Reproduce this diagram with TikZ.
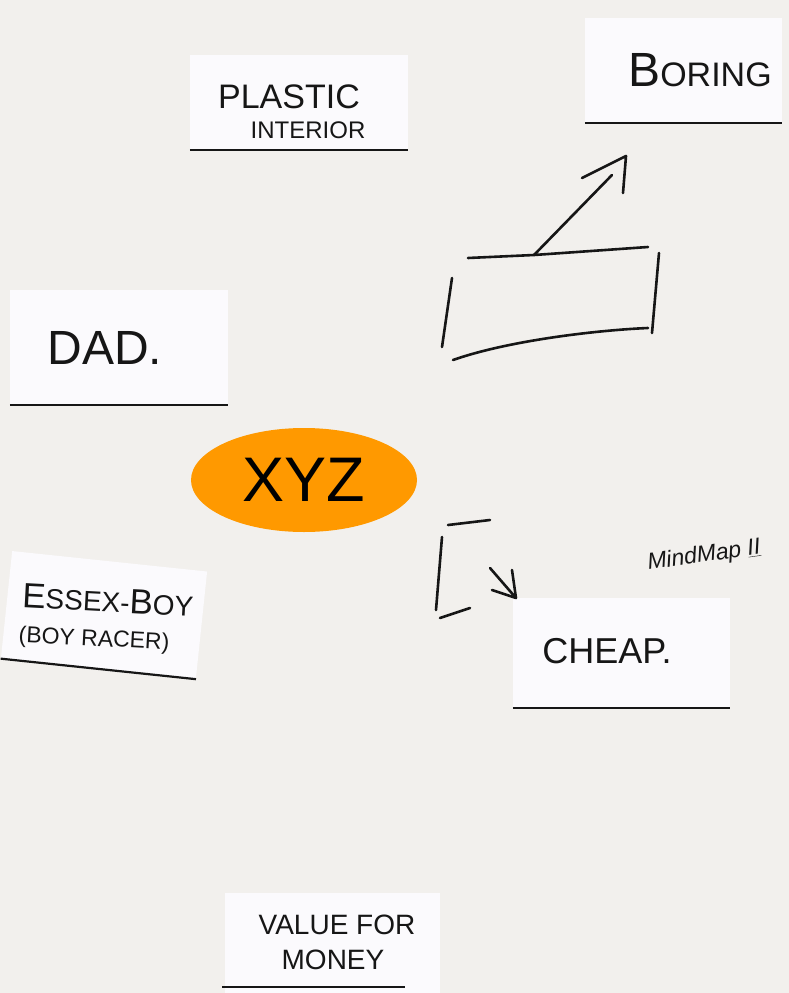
\documentclass[tikz,border=0pt]{standalone}
\usepackage{fontspec}
\setmainfont{Liberation Sans}
\usetikzlibrary{shapes.geometric}
\definecolor{paper}{HTML}{F2F0ED}
\definecolor{card}{HTML}{FBFAFD}
\definecolor{ink}{HTML}{161616}
\definecolor{xyzorange}{HTML}{FF9900}
\tikzset{
  cardbox/.style={fill=card, draw=none, inner sep=0pt},
  cardedge/.style={draw=ink, line width=2.2pt},
  hand/.style={text=ink, inner sep=0pt, align=center},
  pen/.style={draw=ink, line width=2.6pt, line cap=round, line join=round},
  hub/.style={ellipse, fill=xyzorange, draw=none, minimum width=226pt, minimum height=104pt, inner sep=0pt,
              font=\fontsize{63}{63}\selectfont, text=black},
}
\begin{document}
\begin{tikzpicture}[x=1pt,y=-1pt]
\useasboundingbox (0,0) rectangle (789,993);
\fill[paper] (0,0) rectangle (789,993);

% cards
\node[cardbox, minimum width=218pt, minimum height=95pt] (plasticcard) at (299,102.5) {};
\draw[cardedge] (plasticcard.south west) -- (plasticcard.south east);
\node[cardbox, minimum width=197pt, minimum height=105pt] (boringcard) at (683.5,70) {};
\draw[cardedge] (boringcard.south west) -- (boringcard.south east);
\node[cardbox, minimum width=218pt, minimum height=115pt] (dadcard) at (119,347) {};
\draw[cardedge] (dadcard.south west) -- (dadcard.south east);
\node[cardbox, minimum width=196pt, minimum height=108pt, rotate=-6] (essexcard) at (104,615) {};
\draw[cardedge] (essexcard.south west) -- (essexcard.south east);
\node[cardbox, minimum width=217pt, minimum height=110pt] (cheapcard) at (621.5,653) {};
\draw[cardedge] (cheapcard.south west) -- (cheapcard.south east);
\node[cardbox, minimum width=215pt, minimum height=100pt] (valuecard) at (332.5,943) {};
\draw[cardedge] (222,987) -- (405,987);

% card texts
\node[hand, font=\fontsize{34}{36}\selectfont] (plastic) at (289,97) {PLASTIC};
\node[hand, font=\fontsize{24}{25}\selectfont] (interior) at (308,130) {INTERIOR};
\node[hand, font=\fontsize{34}{36}\selectfont] (boring) at (700,70) {{\fontsize{48}{48}\selectfont B}ORING};
\node[hand, font=\fontsize{48}{50}\selectfont] (dad) at (105,348) {DAD.};
\node[hand, font=\fontsize{28}{29}\selectfont, rotate=-3] (essex) at (108,600) {{\fontsize{35}{35}\selectfont E}SSEX-{\fontsize{35}{35}\selectfont B}OY};
\node[hand, font=\fontsize{23}{25}\selectfont, rotate=-3] (racer) at (94,640) {(BOY RACER)};
\node[hand, font=\fontsize{36}{38}\selectfont] (cheap) at (607,651) {CHEAP.};
\node[hand, font=\fontsize{28}{30}\selectfont] (value) at (337,925) {VALUE FOR};
\node[hand, font=\fontsize{28}{30}\selectfont] (money) at (333,960) {MONEY};
\node[hand, font=\fontsize{23}{24}\selectfont\itshape, rotate=8] (sig) at (704,556) {MindMap \underline{II}};

% central hub
\node[hub] (xyz) at (304,480) {XYZ};

% hand-drawn empty box
\coordinate (boxtl) at (468,258);
\coordinate (boxtm) at (534,255);
\coordinate (boxtr) at (648,247);
\draw[pen] (boxtl) -- (boxtm) -- (boxtr);
\draw[pen] (659,253) -- (652,333);
\draw[pen] (453,360) .. controls (510,340) and (600,330) .. (648,328);
\draw[pen] (452,278) -- (442,347);

% arrow from box to Boring
\coordinate (arrowtip) at (626,156);
\draw[pen] (boxtm) -- (612,175);
\draw[pen] (582,178) -- (arrowtip) -- (623,193);

% bracket and small arrow towards Cheap
\draw[pen] (448,525) -- (490,520);
\draw[pen] (442,537) -- (436,610);
\draw[pen] (440,618) -- (470,608);
\coordinate (smalltip) at (516,598);
\draw[pen] (490,568) -- (smalltip);
\draw[pen] (492,590) -- (smalltip) -- (512,570);
\end{tikzpicture}
\end{document}
